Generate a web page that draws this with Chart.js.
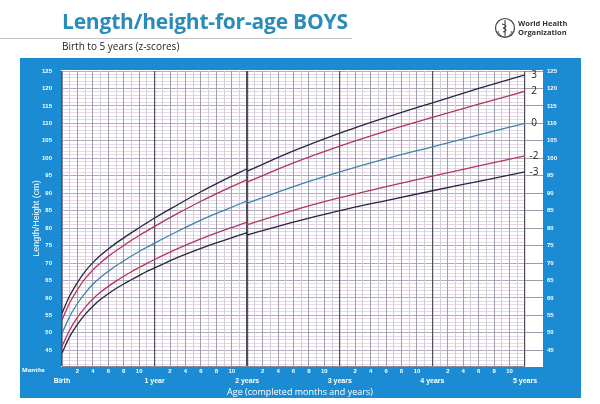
<!DOCTYPE html>
<html>
<head>
<meta charset="utf-8">
<script src="https://cdn.jsdelivr.net/npm/chart.js@4"></script>
<style>
  html, body { margin: 0; padding: 0; background: #fff; }
  #wrap { position: relative; width: 600px; height: 404px; overflow: hidden; font-family: "Open Sans", sans-serif; }
  canvas { position: absolute; left: 0; top: 0; }
  .t { position: absolute; white-space: nowrap; line-height: 1; }
  #title { left: 62px; top: 11px; font-size: 21px; font-weight: bold; color: #2a8cb8; letter-spacing: -0.2px; }
  #rule { position: absolute; left: 0; top: 38px; width: 352px; height: 1px; background: #c4c4c4; }
  #sub { left: 62px; top: 41px; font-size: 10px; color: #222; }
  #who { left: 518px; top: 19px; font-size: 7.5px; line-height: 9px; color: #333; font-weight: bold; }
  #emblem { position: absolute; left: 494px; top: 17px; }
  #months { left: 22px; top: 367px; font-size: 6px; font-weight: bold; color: #fff; }
  #xtitle { left: 300px; top: 387px; transform: translateX(-50%); font-size: 9px; color: #fff; }
</style>
</head>
<body>
<div id="wrap">
  <canvas id="chart" width="600" height="404"></canvas>
  <div class="t" id="title">Length/height-for-age BOYS</div>
  <div id="rule"></div>
  <div class="t" id="sub">Birth to 5 years (z-scores)</div>
  <svg id="emblem" width="22" height="22" viewBox="0 0 22 22">
    <circle cx="11" cy="11" r="9.5" fill="none" stroke="#444" stroke-width="1.2"/>
    <path d="M11 3 L11 19 M8 7 C13 8 13 10 9 11 C13 12 13 14 9 15" fill="none" stroke="#444" stroke-width="1.1"/>
    <path d="M4 14 C5 18 8 20 11 20 M18 14 C17 18 14 20 11 20" fill="none" stroke="#444" stroke-width="1"/>
  </svg>
  <div class="t" id="who">World Health<br>Organization</div>
  <div class="t" id="months">Months</div>
  <div class="t" id="xtitle">Age (completed months and years)</div>
</div>
<script>
// WHO boys length (0-24 mo) and height (24-60 mo), z-score curves in cm
const lengthMonths = [0, 1, 2, 3, 4, 5, 6, 7, 8, 9, 10, 11, 12, 15, 18, 21, 24];
const heightMonths = [24, 30, 36, 42, 48, 54, 60];

const lenP3 = [55.6, 60.6, 64.4, 67.6, 70.1, 72.2, 74.0, 75.7, 77.2, 78.7, 80.1, 81.5, 82.9, 86.7, 90.4, 93.8, 97.0];
const lenP2 = [53.7, 58.6, 62.4, 65.5, 68.0, 70.1, 71.9, 73.5, 75.0, 76.5, 77.9, 79.2, 80.5, 84.2, 87.7, 90.9, 93.9];
const len0 = [49.9, 54.7, 58.4, 61.4, 63.9, 65.9, 67.6, 69.2, 70.6, 72.0, 73.3, 74.5, 75.7, 79.1, 82.3, 85.1, 87.8];
const lenM2 = [46.1, 50.8, 54.4, 57.3, 59.7, 61.7, 63.3, 64.8, 66.2, 67.5, 68.7, 69.9, 71.0, 74.1, 76.9, 79.4, 81.7];
const lenM3 = [44.2, 48.9, 52.4, 55.3, 57.6, 59.6, 61.2, 62.7, 64.0, 65.2, 66.4, 67.6, 68.6, 71.6, 74.2, 76.5, 78.7];

const hgtP3 = [96.3, 102.1, 107.2, 111.7, 115.9, 120.0, 123.9];
const hgtP2 = [93.2, 98.7, 103.5, 107.8, 111.7, 115.5, 119.2];
const hgt0 = [87.1, 91.9, 96.1, 99.9, 103.3, 106.7, 110.0];
const hgtM2 = [81.0, 85.1, 88.7, 91.9, 94.9, 97.8, 100.7];
const hgtM3 = [78.0, 81.7, 85.0, 87.9, 90.7, 93.4, 96.1];

const zLabels = ["3", "2", "0", "-2", "-3"];
const zColours = ["#2a2440", "#b2365f", "#3d85aa", "#b2365f", "#2a2440"];
const lengthSeries = [lenP3, lenP2, len0, lenM2, lenM3];
const heightSeries = [hgtP3, hgtP2, hgt0, hgtM2, hgtM3];

const yearLabels = ["Birth", "1 year", "2 years", "3 years", "4 years", "5 years"];

const datasets = [];
zLabels.forEach((z, i) => {
  const common = {
    label: z,
    borderColor: zColours[i],
    borderWidth: 1.3,
    pointRadius: 0,
    fill: false,
    cubicInterpolationMode: "monotone",
  };
  datasets.push({ ...common, data: lengthMonths.map((m, j) => ({ x: m, y: lengthSeries[i][j] })) });
  datasets.push({ ...common, data: heightMonths.map((m, j) => ({ x: m, y: heightSeries[i][j] })) });
});

// blue panel, white plot strip and the z-score labels at the curve ends
const chartFrame = {
  id: "chartFrame",
  beforeDraw(chart) {
    const { ctx, chartArea: a } = chart;
    ctx.save();
    ctx.fillStyle = "#1b8cd4";
    ctx.fillRect(20, 58, 561, 340);
    ctx.fillStyle = "#fff";
    ctx.fillRect(a.left - 1, a.top - 1, a.right - a.left + 19, a.bottom - a.top + 2);
    ctx.restore();
  },
  afterDatasetsDraw(chart) {
    const { ctx, chartArea: a, scales } = chart;
    ctx.save();
    ctx.font = "10px 'Open Sans', sans-serif";
    ctx.fillStyle = "#222";
    ctx.textAlign = "center";
    ctx.textBaseline = "middle";
    heightSeries.forEach((s, i) => {
      ctx.fillText(zLabels[i], a.right + 9, scales.y.getPixelForValue(s[s.length - 1]));
    });
    ctx.restore();
  },
};

new Chart(document.getElementById("chart"), {
  type: "line",
  data: { datasets },
  options: {
    responsive: false,
    animation: false,
    layout: { padding: { top: 71, left: 0, right: 0, bottom: 0 } },
    plugins: { legend: { display: false }, tooltip: { enabled: false } },
    scales: {
      x: {
        type: "linear",
        min: 0,
        max: 60,
        afterFit: (s) => { s.height = 38; },
        ticks: {
          stepSize: 1,
          autoSkip: false,
          maxRotation: 0,
          padding: 1,
          color: "#fff",
          font: (c) => ({ size: c.tick && c.tick.value % 12 === 0 ? 7 : 6, weight: "bold", lineHeight: 1.3 }),
          callback: (v) => {
            if (v % 12 === 0) return ["", yearLabels[v / 12]];
            return v % 2 === 0 ? String(v % 12) : "";
          },
        },
        grid: {
          drawTicks: false,
          color: (c) => {
            const v = c.tick.value;
            if (v % 12 === 0) return "#4e4e5c";
            return v % 2 === 0 ? "#9e9eae" : "#cfcfda";
          },
          lineWidth: (c) => (c.tick.value === 24 ? 2.2 : c.tick.value % 12 === 0 ? 1.2 : 1),
        },
        border: { color: "#8a8a9a" },
      },
      y: {
        position: "left",
        min: 40.5,
        max: 125,
        afterFit: (s) => { s.width = 62; },
        ticks: {
          stepSize: 1,
          includeBounds: false,
          autoSkip: false,
          padding: 10,
          color: "#fff",
          font: { size: 6, weight: "bold" },
          callback: (v) => (v % 5 === 0 ? String(v) : ""),
        },
        grid: {
          z: -2,
          drawTicks: false,
          color: (c) => (c.tick.value % 5 === 0 ? "#b4abbd" : "#e6d8e6"),
        },
        border: { color: "#8a8a9a" },
        title: { display: true, text: "Length/Height (cm)", color: "#fff", font: { size: 9 }, padding: { top: 31 } },
      },
      y2: {
        position: "right",
        min: 40.5,
        max: 125,
        afterFit: (s) => { s.width = 75; },
        ticks: {
          stepSize: 5,
          includeBounds: false,
          padding: 4,
          color: "#fff",
          font: { size: 6, weight: "bold" },
        },
        grid: { drawOnChartArea: false, tickLength: 18, color: "#9a9aa8" },
        border: { display: false },
      },
    },
  },
  plugins: [chartFrame],
});
</script>
</body>
</html>
